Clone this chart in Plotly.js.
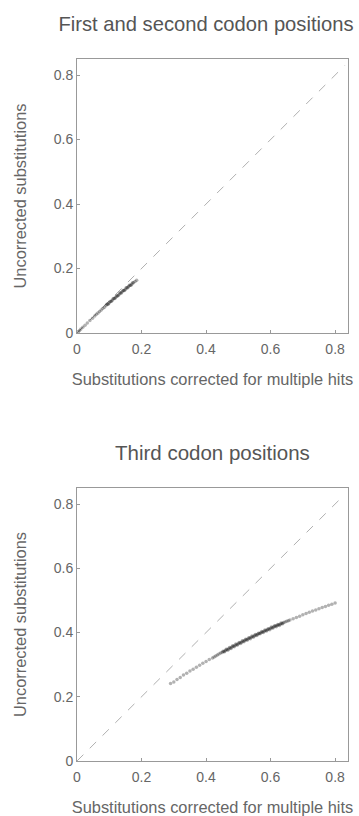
<!DOCTYPE html>
<html>
<head>
<meta charset="utf-8">
<script src="https://cdn.plot.ly/plotly-3.0.1.min.js"></script>
<style>html,body{margin:0;padding:0;background:#fff;}#chart{width:359px;height:816px;}</style>
</head>
<body>
<div id="chart"></div>
<script>
// Panel titles and axis labels
const panelTitles = ["First and second codon positions", "Third codon positions"];
const xLabel = "Substitutions corrected for multiple hits";
const yLabel = "Uncorrected substitutions";
const tickValues = [0, 0.2, 0.4, 0.6, 0.8];
const tickLabels = ["0", "0.2", "0.4", "0.6", "0.8"];

// Reference diagonal (y = x)
const diagX = [0, 0.83];
const diagY = [0, 0.83];

// First and second codon positions: corrected (x) vs uncorrected (y)
const codon12X = [0.004,0.008,0.012,0.018,0.025,0.032,0.040,0.048,0.055,
  0.060,0.065,0.070,0.075,0.080,0.085,0.090,0.095,0.100,0.105,0.110,0.115,0.120,0.125,0.130,0.135,0.140,0.145,0.150,0.155,0.160,0.165,0.170,0.175,0.180,0.185,
  0.0925,0.0975,0.1025,0.1075,0.1125,0.1175,0.1225,0.1275,0.1325,0.1375,0.1425,0.1475,0.1525,0.1575,0.1625,0.1675,0.1725];
const codon12Y = [0.004,0.008,0.012,0.018,0.024,0.031,0.039,0.046,0.053,
  0.058,0.062,0.067,0.071,0.076,0.080,0.085,0.089,0.094,0.098,0.102,0.107,0.111,0.115,0.119,0.124,0.128,0.132,0.136,0.140,0.144,0.148,0.152,0.156,0.160,0.164,
  0.089,0.090,0.098,0.099,0.107,0.107,0.115,0.116,0.124,0.124,0.132,0.132,0.140,0.140,0.148,0.148,0.156];

// Third codon positions: corrected (x) vs uncorrected (y)
const codon3X = [0.290,0.300,0.310,0.320,0.330,0.340,0.350,0.360,0.370,0.380,0.390,0.400,0.410,0.420,
  0.425,0.430,0.435,0.440,0.445,0.450,0.455,0.460,0.465,0.470,0.475,0.480,0.485,0.490,0.495,0.500,0.505,0.510,0.515,0.520,0.525,0.530,0.535,0.540,0.545,0.550,0.555,0.560,0.565,0.570,0.575,0.580,0.585,0.590,0.595,0.600,0.605,0.610,0.615,0.620,0.625,0.630,0.635,0.640,0.645,0.650,0.655,0.660,
  0.4525,0.4575,0.4625,0.4675,0.4725,0.4775,0.4825,0.4875,0.4925,0.4975,0.5025,0.5075,0.5125,0.5175,0.5225,0.5275,0.5325,0.5375,0.5425,0.5475,0.5525,0.5575,0.5625,0.5675,0.5725,0.5775,0.5825,0.5875,0.5925,0.5975,0.6025,0.6075,0.6125,0.6175,0.6225,0.6275,0.6325,0.6375,
  0.670,0.680,0.690,0.700,0.710,0.720,0.730,0.740,0.750,0.760,0.770,0.780,0.790,0.800];
const codon3Y = [0.241,0.246,0.254,0.260,0.268,0.273,0.280,0.286,0.292,0.298,0.304,0.310,0.316,0.321,
  0.324,0.327,0.330,0.333,0.336,0.338,0.341,0.344,0.347,0.349,0.352,0.355,0.357,0.360,0.362,0.365,0.368,0.370,0.373,0.375,0.378,0.380,0.383,0.385,0.387,0.390,0.392,0.395,0.397,0.399,0.402,0.404,0.406,0.409,0.411,0.413,0.415,0.418,0.420,0.422,0.424,0.426,0.428,0.431,0.433,0.435,0.437,0.439,
  0.342,0.340,0.348,0.345,0.353,0.350,0.359,0.356,0.364,0.361,0.369,0.366,0.374,0.371,0.379,0.376,0.384,0.381,0.389,0.386,0.394,0.391,0.398,0.396,0.403,0.400,0.408,0.405,0.412,0.409,0.417,0.414,0.421,0.418,0.425,0.422,0.430,0.427,
  0.443,0.447,0.451,0.455,0.459,0.463,0.467,0.470,0.474,0.478,0.481,0.485,0.488,0.492];

const textColor = "#666";
const lineColor = "#999";
const font = "Liberation Sans, Arial, sans-serif";

const markerStyle = {size: 3.5, color: "rgba(20,20,20,0.33)", line: {width: 0}};
const diagStyle = {color: "#b0b0b0", width: 1, dash: "dash"};

const traces = [
  {x: diagX, y: diagY, mode: "lines", line: diagStyle, xaxis: "x", yaxis: "y", hoverinfo: "skip", showlegend: false},
  {x: codon12X, y: codon12Y, mode: "markers", marker: markerStyle, xaxis: "x", yaxis: "y", showlegend: false, name: panelTitles[0]},
  {x: diagX, y: diagY, mode: "lines", line: diagStyle, xaxis: "x2", yaxis: "y2", hoverinfo: "skip", showlegend: false},
  {x: codon3X, y: codon3Y, mode: "markers", marker: markerStyle, xaxis: "x2", yaxis: "y2", showlegend: false, name: panelTitles[1]}
];

function axisBase(extra) {
  return Object.assign({
    showline: true, mirror: true, linecolor: lineColor, linewidth: 1,
    ticks: "inside", ticklen: 3, tickcolor: lineColor,
    showgrid: false, zeroline: false,
    tickvals: tickValues, ticktext: tickLabels,
    tickfont: {family: font, size: 14, color: textColor},
    automargin: false
  }, extra);
}

const titleFont = {family: font, size: 16.4, color: textColor};

const layout = {
  width: 359, height: 816,
  margin: {l: 77, r: 11, t: 59, b: 55},
  paper_bgcolor: "#fff", plot_bgcolor: "#fff",
  font: {family: font, color: textColor},
  title: {text: panelTitles[0], x: 206 / 359, xanchor: "center", y: 1 - 24/816, yanchor: "middle",
          font: {family: font, size: 20.2, color: "#555"}},
  xaxis: axisBase({domain: [0, 1], range: [0, 0.84], anchor: "y", ticklabelstandoff: 3,
    title: {text: xLabel, font: titleFont, standoff: 17}}),
  yaxis: axisBase({domain: [0.6097, 1], range: [0, 0.85], anchor: "x",
    title: {text: yLabel, font: titleFont, standoff: 22}}),
  xaxis2: axisBase({domain: [0, 1], range: [0, 0.84], anchor: "y2", ticklabelstandoff: 3,
    title: {text: xLabel, font: titleFont, standoff: 23}}),
  yaxis2: axisBase({domain: [0, 0.3889], range: [0, 0.85], anchor: "x2",
    title: {text: yLabel, font: titleFont, standoff: 22}}),
  annotations: [
    {text: panelTitles[1], xref: "paper", yref: "paper", x: 0.5, y: (761 - 453) / 702,
     xanchor: "center", yanchor: "middle", showarrow: false,
     font: {family: font, size: 20.5, color: "#555"}}
  ]
};

Plotly.newPlot("chart", traces, layout, {staticPlot: true, displayModeBar: false});
</script>
</body>
</html>
